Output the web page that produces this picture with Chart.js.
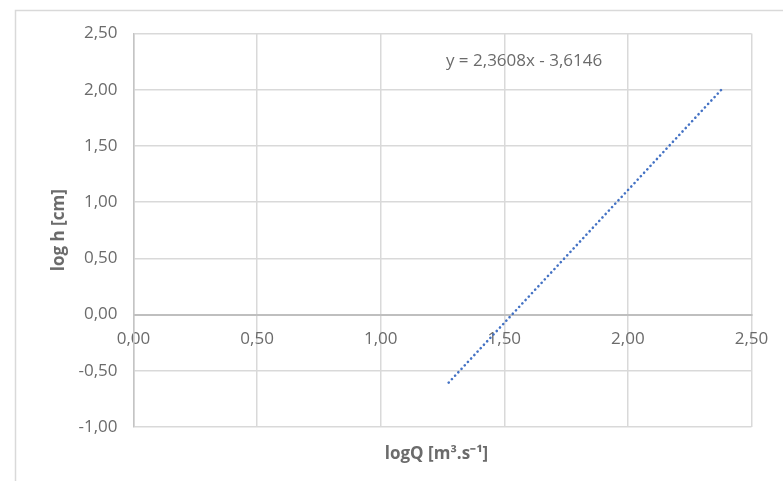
<!DOCTYPE html>
<html>

<head>
    <title>log h vs logQ</title>
    <script src="https://cdn.jsdelivr.net/npm/chart.js"></script>
    <style>
        html, body { margin: 0; padding: 0; background: #fff; }
        #chartWrap { width: 783px; height: 481px; }
    </style>
</head>

<body>
    <div id="chartWrap"><canvas id="chartCanvas"></canvas></div>
    <script>
        // trendline ends
        const trendX = [1.275, 2.38];
        const trendY = [-0.605, 2.004];
        const xTicks = [0, 0.5, 1, 1.5, 2, 2.5];
        const yTicks = [-1, -0.5, 0, 0.5, 1, 1.5, 2, 2.5];
        const equation = 'y = 2,3608x - 3,6146';
        const equationAt = [1.58, 2.25];
        const xTitle = 'logQ [m³.s⁻¹]';
        const yTitle = 'log h [cm]';

        const textColor = '#6b6b6b';
        const gridColor = '#d9d9d9';
        const fmt = v => v.toFixed(2).replace('.', ',');

        const extras = {
            id: 'extras',
            beforeDraw(c) {
                const ctx = c.ctx;
                ctx.save();
                ctx.strokeStyle = '#d9d9d9';
                ctx.lineWidth = 1.5;
                ctx.strokeRect(15.5, 10.5, 900, 600);
                ctx.restore();
            },
            afterDraw(c) {
                const ctx = c.ctx;
                const xs = c.scales.x, ys = c.scales.y;
                ctx.save();
                ctx.fillStyle = textColor;
                ctx.textAlign = 'center';
                ctx.textBaseline = 'middle';
                ctx.font = '17px "Open Sans"';
                ctx.fillText(equation, xs.getPixelForValue(equationAt[0]), ys.getPixelForValue(equationAt[1]));
                ctx.font = 'bold 17px "Open Sans"';
                ctx.fillText(xTitle, (c.chartArea.left + c.chartArea.right) / 2 - 6, 454);
                ctx.restore();
            }
        };

        new Chart(document.getElementById('chartCanvas'), {
            type: 'scatter',
            data: {
                datasets: [{
                    type: 'line',
                    data: trendX.map((x, i) => ({ x: x, y: trendY[i] })),
                    borderColor: '#4472C4',
                    borderWidth: 2.6,
                    borderDash: [0.1, 4.6],
                    borderCapStyle: 'round',
                    pointRadius: 0,
                    fill: false
                }]
            },
            options: {
                responsive: true,
                maintainAspectRatio: false,
                animation: false,
                layout: { padding: { left: 45, top: 33.5, right: 31.5, bottom: 54 } },
                plugins: { legend: { display: false }, tooltip: { enabled: false } },
                scales: {
                    x: {
                        type: 'linear',
                        position: { y: 0 },
                        min: 0, max: 2.5,
                        afterBuildTicks: s => { s.ticks = xTicks.map(v => ({ value: v })); },
                        ticks: {
                            color: textColor, padding: 14,
                            font: { family: 'Open Sans', size: 17 },
                            maxRotation: 0,
                            callback: v => fmt(v)
                        },
                        grid: { color: gridColor, lineWidth: 1.5, drawTicks: false },
                        border: { color: '#bfbfbf', width: 2 }
                    },
                    y: {
                        type: 'linear',
                        min: -1, max: 2.5,
                        afterBuildTicks: s => { s.ticks = yTicks.map(v => ({ value: v })); },
                        afterFit: s => { s.width = 88.5; },
                        ticks: {
                            color: textColor, padding: 16,
                            font: { family: 'Open Sans', size: 17 },
                            callback: v => fmt(v)
                        },
                        grid: {
                            color: ctx => ctx.tick && ctx.tick.value === 0 ? '#c4c4c4' : gridColor,
                            lineWidth: ctx => ctx.tick && ctx.tick.value === 0 ? 2 : 1.5,
                            drawTicks: false
                        },
                        border: { color: '#c4c4c4', width: 1.5 },
                        title: {
                            display: true, text: yTitle, color: textColor,
                            font: { family: 'Open Sans', size: 17, weight: 'bold' }
                        }
                    }
                }
            },
            plugins: [extras]
        });
    </script>
</body>

</html>
